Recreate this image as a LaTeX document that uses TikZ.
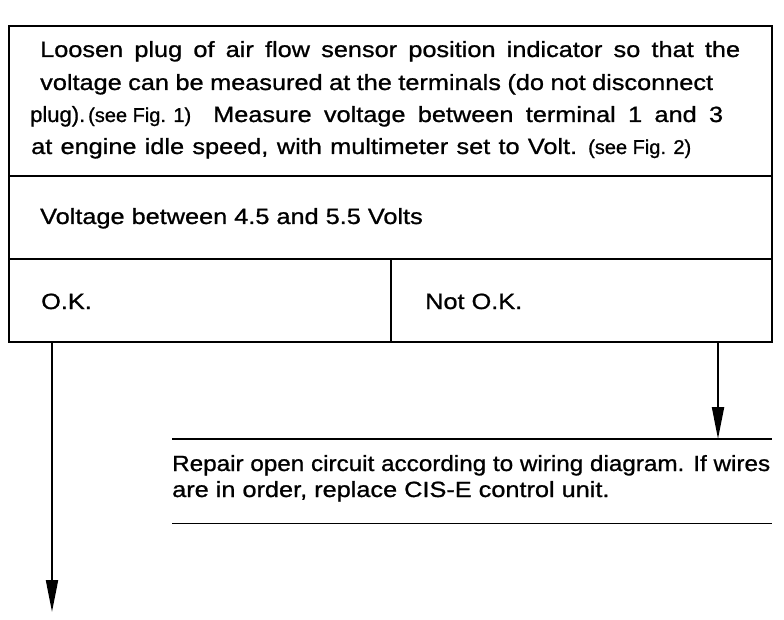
\documentclass[tikz,border=0pt]{standalone}
\usepackage{fontspec}
\setmainfont[FakeStretch=1.15, FakeBold=1]{Liberation Sans}
\newfontfamily\plainf[FakeBold=1]{Liberation Sans}
\usetikzlibrary{arrows.meta}
\newcommand{\smallref}[1]{{\plainf\fontsize{20}{24}\selectfont #1}}
\begin{document}
\begin{tikzpicture}[x=1pt,y=-1pt,
  cell/.style={draw, line width=1.6pt, rectangle, inner sep=0pt, anchor=north west},
  txt/.style={anchor=base west, inner sep=0pt, font=\fontsize{22}{26}\selectfont},
  rule/.style={line width=1.8pt},
  arr/.style={line width=2pt, -{Triangle[length=32pt,width=12pt]}}]
\useasboundingbox (0,0) rectangle (784,620);
% cells
\node[cell, minimum width=763pt, minimum height=150pt] (instr) at (8,25) {};
\node[cell, minimum width=763pt, minimum height=83pt] (cond) at (8,175) {};
\node[cell, minimum width=382pt, minimum height=83pt] (ok) at (8,258) {};
\node[cell, minimum width=381pt, minimum height=83pt] (notok) at (390,258) {};
% instruction text
\node[txt] (l1) at (40,57) {\makebox[700pt][s]{Loosen plug of air flow sensor position indicator so that the}};
\node[txt] (l2) at (40,90) {\makebox[673pt][s]{voltage can be measured at the terminals (do not disconnect}};
\node[txt] (l3a) at (30,122) {{\plainf plug).}};
\node[txt] (l3s) at (88,122) {\smallref{(see Fig. 1)}};
\node[txt] (l3b) at (213,122) {\makebox[510pt][s]{Measure voltage between terminal 1 and 3}};
\node[txt] (l4) at (31,154) {\makebox[546pt][s]{at engine idle speed, with multimeter set to Volt.}};
\node[txt] (l4s) at (588,154) {\smallref{(see Fig. 2)}};
% condition
\node[txt] (c1) at (40,224) {Voltage between 4.5 and 5.5 Volts};
\node[txt] (okt) at (41,309) {O.K.};
\node[txt] (nokt) at (425,309) {Not O.K.};
% repair block
\node[anchor=north west, inner sep=0pt, minimum width=600pt, minimum height=84pt] (repair) at (172,439) {};
\draw[rule] (repair.north west) -- (repair.north east);
\draw[rule] (repair.south west) -- (repair.south east);
\node[txt] (r1) at (172,471) {\resizebox{598pt}{\height}{Repair open circuit according to wiring diagram. If wires}};
\node[txt] (r2) at (172,497) {are in order, replace CIS-E control unit.};
% connectors
\coordinate (leftend) at (52,612);
\path (repair.north west) ++(546,0) coordinate (rin);
\draw[arr] (ok.south -| leftend) -- (leftend);
\draw[arr] (notok.south -| rin) -- (rin);
\end{tikzpicture}
\end{document}
